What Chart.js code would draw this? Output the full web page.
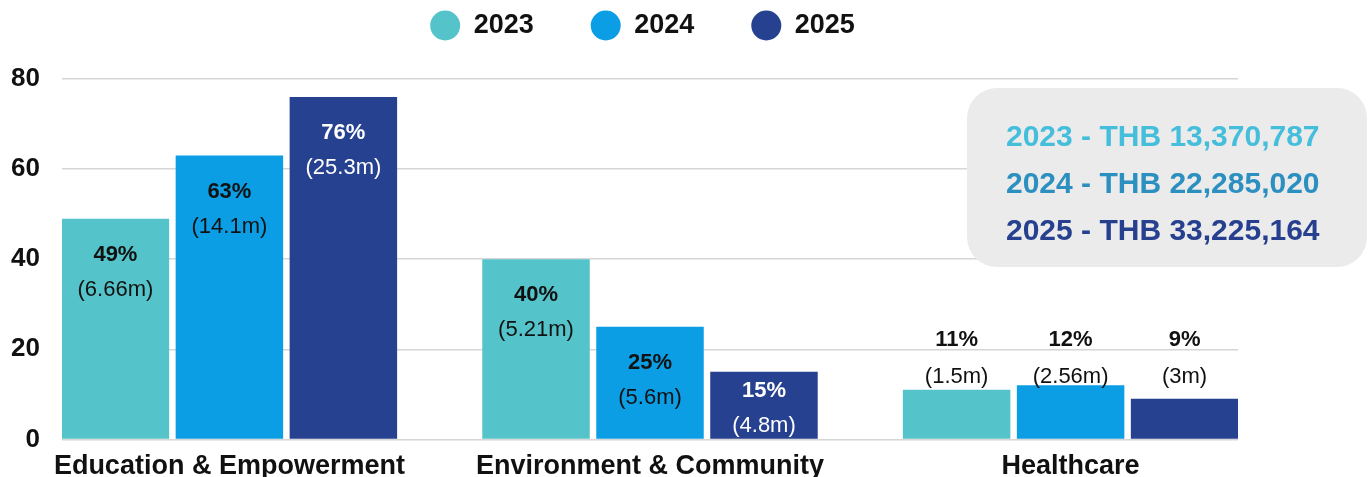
<!DOCTYPE html>
<html>
<head>
<meta charset="utf-8">
<title>Funding by focus area</title>
<script src="https://cdn.jsdelivr.net/npm/chart.js@4.4.0/dist/chart.umd.min.js"></script>
<style>
    html, body { margin: 0; padding: 0; background: #ffffff; }
    canvas { display: block; }
</style>
</head>
<body>
<canvas id="fundChart" width="1371" height="477"></canvas>
<script>
const categories = ['Education & Empowerment', 'Environment & Community', 'Healthcare'];
const years = ['2023', '2024', '2025'];
const share2023 = [49, 40, 11];
const share2024 = [63, 25, 12];
const share2025 = [76, 15, 9];
const amount2023 = ['6.66m', '5.21m', '1.5m'];
const amount2024 = ['14.1m', '5.6m', '2.56m'];
const amount2025 = ['25.3m', '4.8m', '3m'];
const yTicks = [0, 20, 40, 60, 80];
const totalYears = ['2023', '2024', '2025'];
const totalAmounts = ['THB 13,370,787', 'THB 22,285,020', 'THB 33,225,164'];

const barColors = ['#55C4CA', '#0C9EE5', '#26418F'];
const labelColors = ['#111111', '#111111', '#ffffff'];
const totalColors = ['#45BEDB', '#2B90C0', '#26408F'];
const shares = [share2023, share2024, share2025];
const amounts = [amount2023, amount2024, amount2025];

Chart.defaults.font.family = '"Liberation Sans", Arial, Helvetica, sans-serif';
Chart.defaults.color = '#111111';

// extra room between the legend and the plot
const legendGap = {
    id: 'legendGap',
    beforeInit(chart) {
        const fit = chart.legend.fit;
        chart.legend.fit = function () {
            fit.call(this);
            this.height += 30;
        };
    }
};

// percentage + amount written on (or above) every bar
const barLabels = {
    id: 'barLabels',
    afterDatasetsDraw(chart) {
        const ctx = chart.ctx;
        const yScale = chart.scales.y;
        ctx.save();
        ctx.textAlign = 'center';
        ctx.textBaseline = 'middle';
        chart.data.datasets.forEach((ds, di) => {
            chart.getDatasetMeta(di).data.forEach((bar, i) => {
                const h = bar.base - bar.y;
                let pctY, amtY, color;
                if (h > 60) {
                    pctY = bar.y + Math.min(36, h - 48);
                    amtY = pctY + 35;
                    color = labelColors[di];
                } else {
                    // short bars: labels sit above the tallest bar of the group
                    const groupMax = Math.max(...chart.data.datasets.map(d => d.data[i].y));
                    pctY = yScale.getPixelForValue(groupMax) - 45;
                    amtY = pctY + 37;
                    color = '#111111';
                }
                ctx.fillStyle = color;
                ctx.font = 'bold 22px "Liberation Sans", Arial, sans-serif';
                ctx.fillText(ds.data[i].y + '%', bar.x, pctY);
                ctx.font = '22px "Liberation Sans", Arial, sans-serif';
                ctx.fillText('(' + amounts[di][i] + ')', bar.x, amtY);
            });
        });
        ctx.restore();
    }
};

// grey rounded box with the yearly totals
const totalsBox = {
    id: 'totalsBox',
    afterDraw(chart) {
        const ctx = chart.ctx;
        const w = 400, h = 179, r = 30;
        const left = chart.width - w - 4;
        const top = chart.chartArea.top + 9;
        ctx.save();
        ctx.fillStyle = '#EBEBEB';
        ctx.beginPath();
        ctx.roundRect(left, top, w, h, r);
        ctx.fill();
        ctx.font = 'bold 30px "Liberation Sans", Arial, sans-serif';
        ctx.textAlign = 'left';
        ctx.textBaseline = 'middle';
        totalYears.forEach((yr, i) => {
            ctx.fillStyle = totalColors[i];
            ctx.fillText(yr + ' - ' + totalAmounts[i], left + 39, top + 50 + i * 47);
        });
        ctx.restore();
    }
};

const ctx = document.getElementById('fundChart').getContext('2d');

new Chart(ctx, {
    type: 'bar',
    data: {
        datasets: years.map((yr, di) => ({
            label: yr,
            data: shares[di].map((v, i) => ({ x: i, y: v })),
            backgroundColor: barColors[di],
            borderWidth: 0,
            categoryPercentage: 0.813,
            barPercentage: 0.943
        }))
    },
    options: {
        responsive: false,
        animation: false,
        layout: {
            padding: { top: -45, left: 0, right: 86, bottom: -15 }
        },
        plugins: {
            legend: {
                position: 'top',
                labels: {
                    usePointStyle: true,
                    pointStyle: 'circle',
                    pointStyleWidth: 30,
                    boxHeight: 21.2,
                    padding: 57,
                    color: '#111111',
                    font: { size: 27, weight: 'bold' }
                }
            },
            tooltip: { enabled: false }
        },
        scales: {
            x: {
                type: 'linear',
                offset: false,
                min: -0.398,
                max: 2.398,
                afterBuildTicks: axis => {
                    axis.ticks = categories.map((c, i) => ({ value: i }));
                },
                grid: { display: false },
                border: { display: false },
                ticks: {
                    padding: 6,
                    maxRotation: 0,
                    color: '#111111',
                    font: { size: 27, weight: 'bold', lineHeight: 1 },
                    callback: value => categories[value]
                }
            },
            y: {
                min: 0,
                max: 80,
                afterBuildTicks: axis => {
                    axis.ticks = yTicks.map(v => ({ value: v }));
                },
                afterFit: axis => {
                    axis.width = 62;
                },
                grid: { color: '#D6D6D6', lineWidth: 1.5, drawTicks: false },
                border: { display: false },
                ticks: {
                    padding: 22,
                    color: '#111111',
                    font: { size: 26, weight: 'bold' }
                }
            },
            // empty right-hand gutter so the legend centres like the original
            gutter: {
                position: 'right',
                grid: { display: false },
                border: { display: false },
                ticks: { display: false },
                afterFit: axis => {
                    axis.width = 47;
                }
            }
        }
    },
    plugins: [legendGap, barLabels, totalsBox]
});
</script>
</body>
</html>
